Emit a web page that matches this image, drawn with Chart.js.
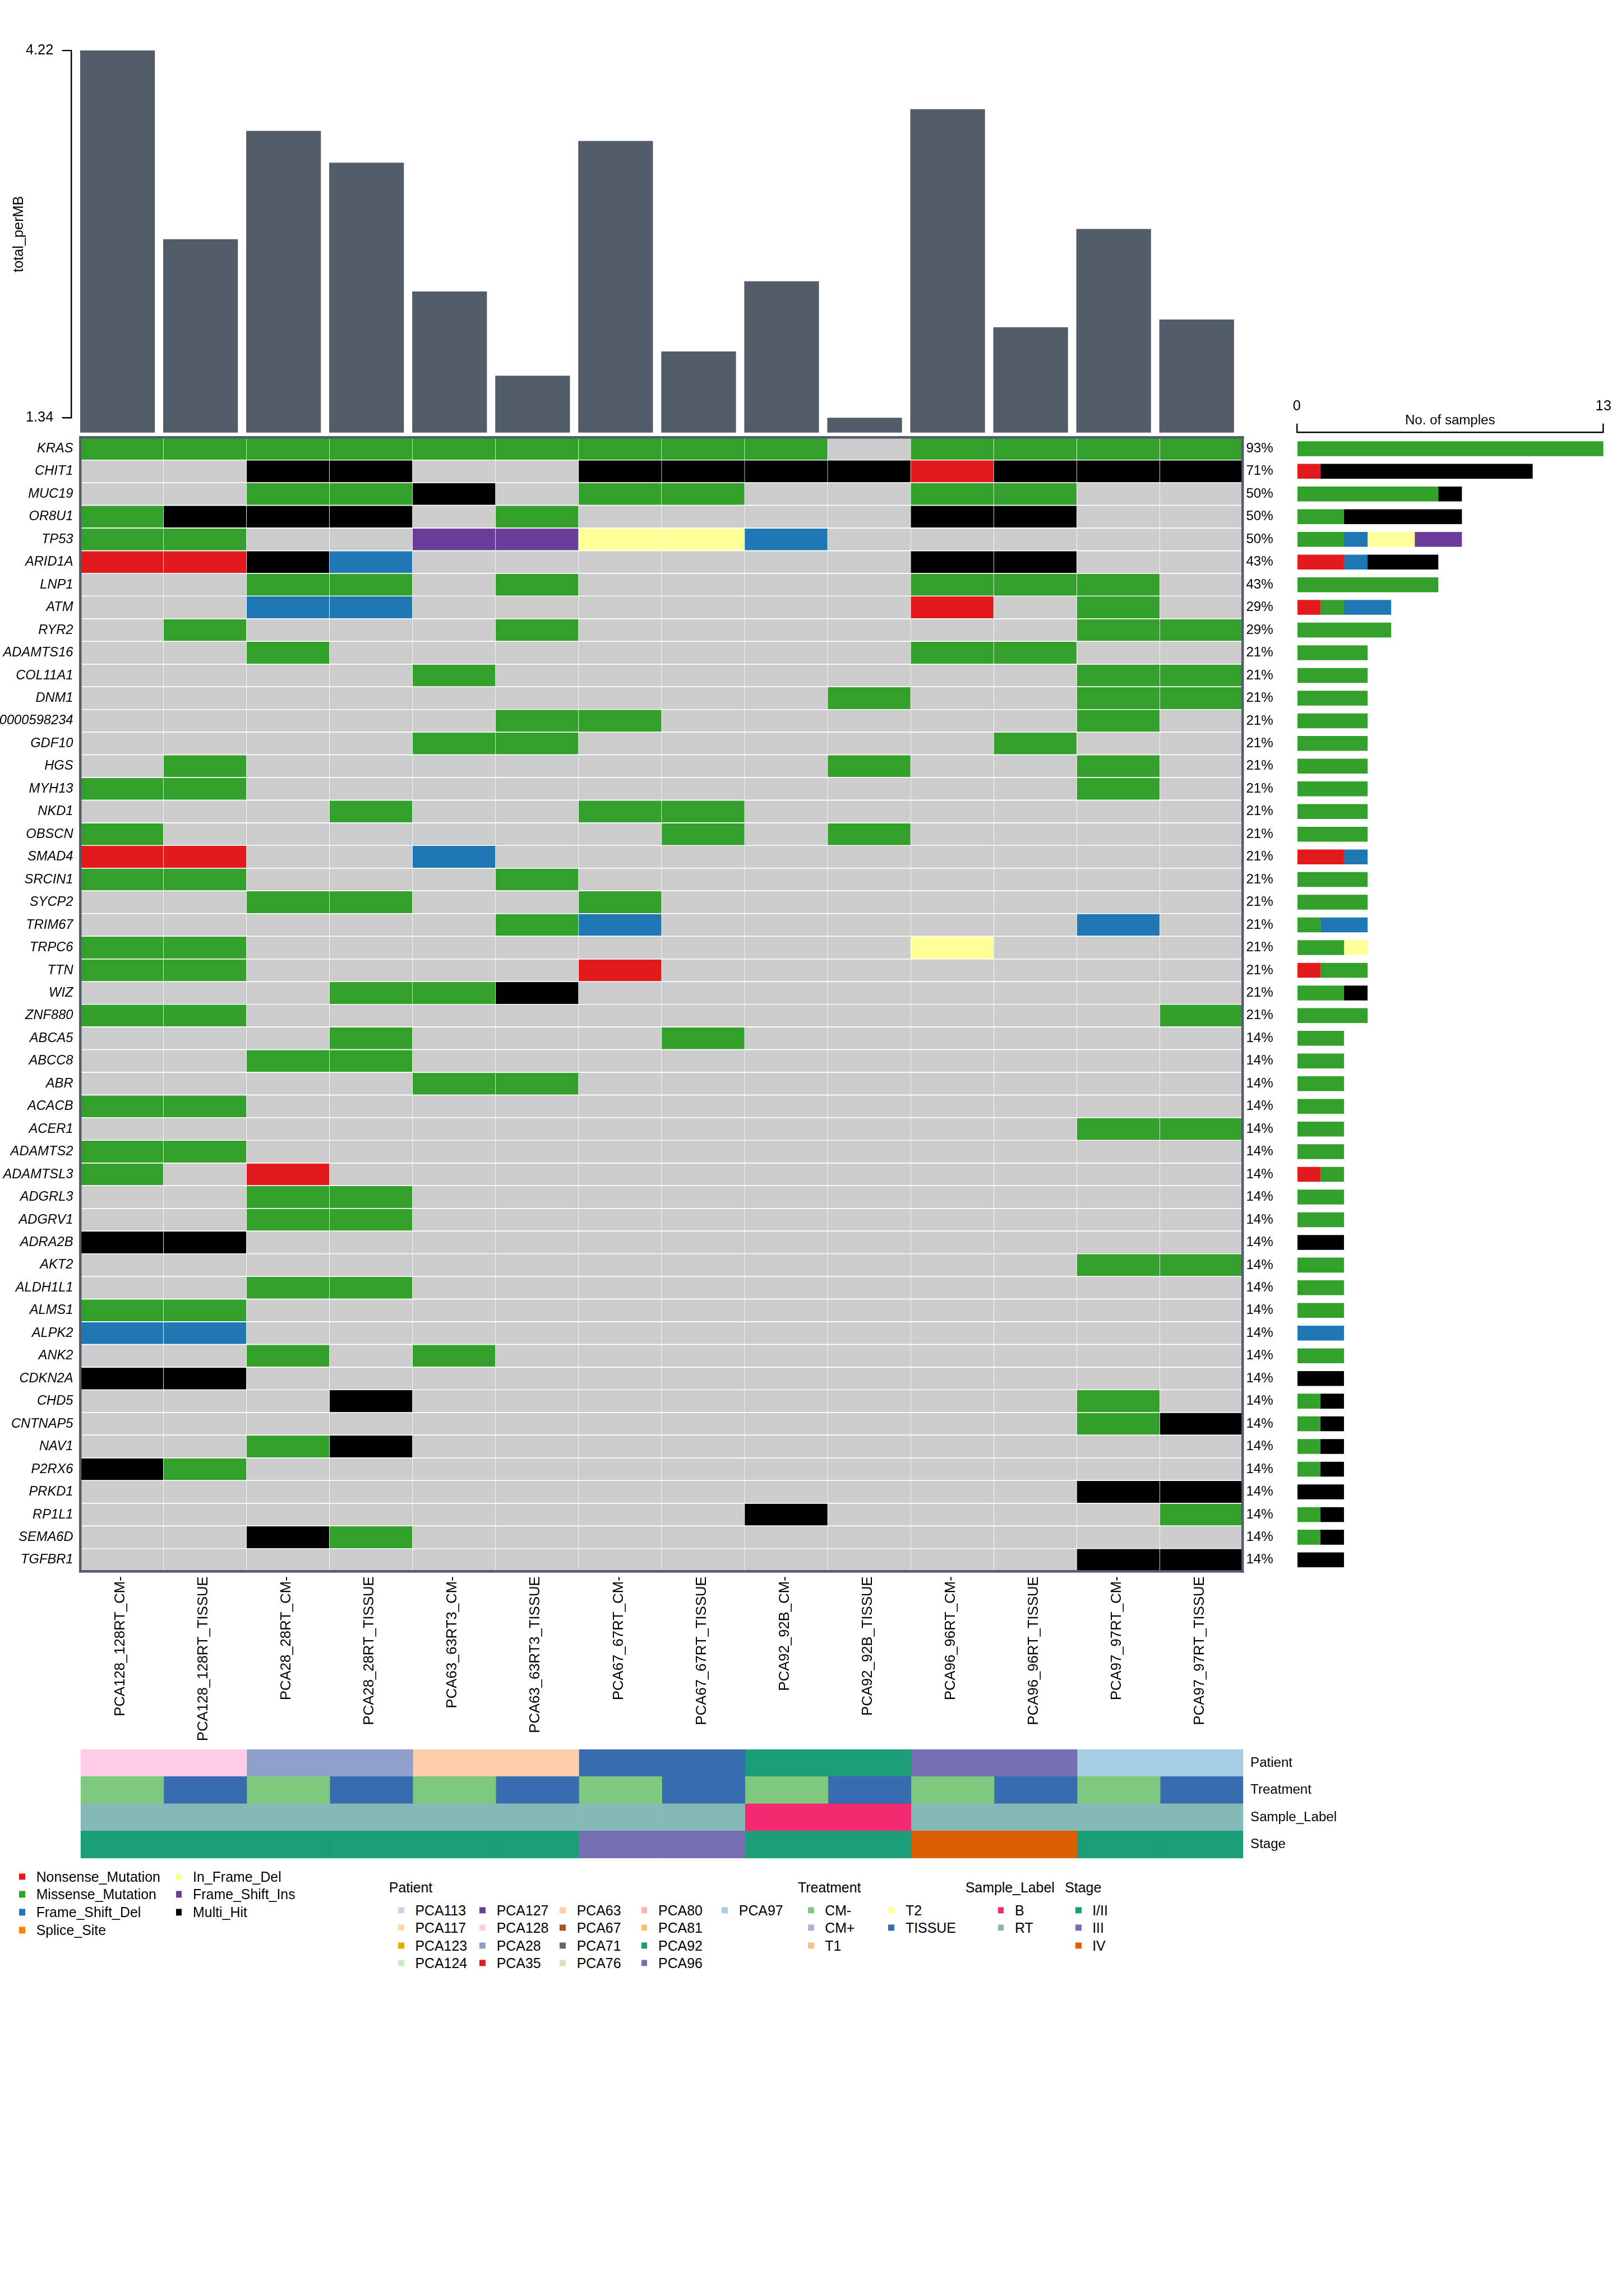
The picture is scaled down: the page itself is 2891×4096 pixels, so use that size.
<!DOCTYPE html>
<html><head><meta charset="utf-8">
<script src="https://cdn.jsdelivr.net/npm/chart.js@4.4.1/dist/chart.umd.min.js"></script>
<style>
html,body{margin:0;padding:0;background:#fff;}
body{width:2891px;height:4096px;position:relative;overflow:hidden;font-family:'Liberation Sans',Arial,Helvetica,sans-serif;}
canvas{position:absolute;}
.lg{position:absolute;white-space:nowrap;line-height:1;color:#000;transform:translateY(-50%);}
.sw{position:absolute;transform:translateY(-50%);}
</style></head><body>
<canvas id="tmb"></canvas>
<canvas id="grid"></canvas>
<canvas id="rbar"></canvas>
<canvas id="tracks"></canvas>
<div id="legend"></div>
<script>
// ---------------- DATA ----------------
const sampleNames = ['PCA128_128RT_CM-','PCA128_128RT_TISSUE','PCA28_28RT_CM-','PCA28_28RT_TISSUE','PCA63_63RT3_CM-','PCA63_63RT3_TISSUE','PCA67_67RT_CM-','PCA67_67RT_TISSUE','PCA92_92B_CM-','PCA92_92B_TISSUE','PCA96_96RT_CM-','PCA96_96RT_TISSUE','PCA97_97RT_CM-','PCA97_97RT_TISSUE'];
const tmbValues = [4.22, 2.74, 3.59, 3.34, 2.33, 1.67, 3.51, 1.86, 2.41, 1.34, 3.76, 2.05, 2.82, 2.11];
const tmbTickValues = [1.34, 4.22];
const tmbAxisTitle = 'total_perMB';

const genes = ['KRAS','CHIT1','MUC19','OR8U1','TP53','ARID1A','LNP1','ATM','RYR2','ADAMTS16','COL11A1','DNM1','ENSG00000598234','GDF10','HGS','MYH13','NKD1','OBSCN','SMAD4','SRCIN1','SYCP2','TRIM67','TRPC6','TTN','WIZ','ZNF880','ABCA5','ABCC8','ABR','ACACB','ACER1','ADAMTS2','ADAMTSL3','ADGRL3','ADGRV1','ADRA2B','AKT2','ALDH1L1','ALMS1','ALPK2','ANK2','CDKN2A','CHD5','CNTNAP5','NAV1','P2RX6','PRKD1','RP1L1','SEMA6D','TGFBR1'];

// one string per gene, one character per sample:
// . none, N Nonsense_Mutation, M Missense_Mutation, D Frame_Shift_Del, I In_Frame_Del, F Frame_Shift_Ins, X Multi_Hit
const mutationCalls = [
 'MMMMMMMMM.MMMM','..XX..XXXXNXXX','..MMX.MM..MM..','MXXX.M....XX..','MM..FFIID.....',
 'NNXD......XX..','..MM.M....MMM.','..DD......N.M.','.M...M......MM','..M.......MM..',
 '....M.......MM','.........M..MM','.....MM.....M.','....MM.....M..','.M.......M..M.',
 'MM..........M.','...M..MM......','M......M.M....','NN..D.........','MM...M........',
 '..MM..M.......','.....MD.....D.','MM........I...','MM....N.......','...MMX........',
 'MM...........M','...M...M......','..MM..........','....MM........','MM............',
 '............MM','MM............','M.N...........','..MM..........','..MM..........',
 'XX............','............MM','..MM..........','MM............','DD............',
 '..M.M.........','XX............','...X........M.','............MX','..MX..........',
 'XM............','............XX','........X....M','..XM..........','............XX'
];

const pctLabels = ['93%','71%','50%','50%','50%','43%','43%','29%','29%',
 '21%','21%','21%','21%','21%','21%','21%','21%','21%','21%','21%','21%','21%','21%','21%','21%','21%',
 '14%','14%','14%','14%','14%','14%','14%','14%','14%','14%','14%','14%','14%','14%','14%','14%','14%','14%','14%','14%','14%','14%','14%','14%'];

// per-gene sample counts (right bar plot)
const nonsenseCounts     = [0,1,0,0,0,2,0,1,0,0, 0,0,0,0,0,0,0,0,2,0, 0,0,0,1,0,0,0,0,0,0, 0,0,1,0,0,0,0,0,0,0, 0,0,0,0,0,0,0,0,0,0];
const missenseCounts     = [13,0,6,2,2,0,6,1,4,3, 3,3,3,3,3,3,3,3,0,3, 3,1,2,2,2,3,2,2,2,2, 2,2,1,2,2,0,2,2,2,0, 2,0,1,1,1,1,0,1,1,0];
const frameShiftDelCounts= [0,0,0,0,1,1,0,2,0,0, 0,0,0,0,0,0,0,0,1,0, 0,2,0,0,0,0,0,0,0,0, 0,0,0,0,0,0,0,0,0,2, 0,0,0,0,0,0,0,0,0,0];
const inFrameDelCounts   = [0,0,0,0,2,0,0,0,0,0, 0,0,0,0,0,0,0,0,0,0, 0,0,1,0,0,0,0,0,0,0, 0,0,0,0,0,0,0,0,0,0, 0,0,0,0,0,0,0,0,0,0];
const frameShiftInsCounts= [0,0,0,0,2,0,0,0,0,0, 0,0,0,0,0,0,0,0,0,0, 0,0,0,0,0,0,0,0,0,0, 0,0,0,0,0,0,0,0,0,0, 0,0,0,0,0,0,0,0,0,0];
const multiHitCounts     = [0,9,1,5,0,3,0,0,0,0, 0,0,0,0,0,0,0,0,0,0, 0,0,0,0,1,0,0,0,0,0, 0,0,0,0,0,2,0,0,0,0, 0,2,1,1,1,1,2,1,1,2];
const sampleAxisTicks = [0, 13];
const sampleAxisTitle = 'No. of samples';

const trackNames = ['Patient','Treatment','Sample_Label','Stage'];
const patientOfSample     = ['PCA128','PCA128','PCA28','PCA28','PCA63','PCA63','PCA67','PCA67','PCA92','PCA92','PCA96','PCA96','PCA97','PCA97'];
const treatmentOfSample   = ['CM-','TISSUE','CM-','TISSUE','CM-','TISSUE','CM-','TISSUE','CM-','TISSUE','CM-','TISSUE','CM-','TISSUE'];
const sampleLabelOfSample = ['RT','RT','RT','RT','RT','RT','RT','RT','B','B','RT','RT','RT','RT'];
const stageOfSample       = ['I/II','I/II','I/II','I/II','I/II','I/II','III','III','I/II','I/II','IV','IV','I/II','I/II'];

const mutationLegend    = ['Nonsense_Mutation','Missense_Mutation','Frame_Shift_Del','Splice_Site','In_Frame_Del','Frame_Shift_Ins','Multi_Hit'];
const patientLegend     = ['PCA113','PCA117','PCA123','PCA124','PCA127','PCA128','PCA28','PCA35','PCA63','PCA67','PCA71','PCA76','PCA80','PCA81','PCA92','PCA96','PCA97'];
const treatmentLegend   = ['CM-','CM+','T1','T2','TISSUE'];
const sampleLabelLegend = ['B','RT'];
const stageLegend       = ['I/II','III','IV'];

// ---------------- STYLE ----------------
const S = 2891 / 3600;
const R = v => v * S;
const FONT = "'Liberation Sans', Arial, Helvetica, sans-serif";
Chart.defaults.font.family = FONT;
Chart.defaults.color = '#000';

const SLATE = '#535C69';
const callColor = {'.':'#CCCCCC','N':'#E31A1C','M':'#33A02C','D':'#1F78B4','I':'#FFFF99','F':'#6A3D9A','X':'#000000','S':'#FF7F00'};
const mutationColor = {'Nonsense_Mutation':'#E31A1C','Missense_Mutation':'#33A02C','Frame_Shift_Del':'#1F78B4','Splice_Site':'#FF7F00','In_Frame_Del':'#FFFF99','Frame_Shift_Ins':'#6A3D9A','Multi_Hit':'#000000'};
const patientLegendColor = {PCA113:'#DECBE4',PCA117:'#FED9A6',PCA123:'#E6AB02',PCA124:'#CCEBC5',PCA127:'#6A3D9A',PCA128:'#FCCDE5',PCA28:'#8DA0CB',PCA35:'#E31A1C',PCA63:'#FDCDAC',PCA67:'#A65628',PCA71:'#666666',PCA76:'#E5D8BD',PCA80:'#FBB4AE',PCA81:'#FDBF6F',PCA92:'#1B9E77',PCA96:'#7570B3',PCA97:'#A6CEE3'};
const patientTrackColor = {PCA128:'#FCCDE5',PCA28:'#8DA0CB',PCA63:'#FDCDAC',PCA67:'#386CB0',PCA92:'#1B9E77',PCA96:'#7570B3',PCA97:'#A6CEE3'};
const treatmentColor = {'CM-':'#7FC97F','CM+':'#BEAED4','T1':'#FDC086','T2':'#FFFF99','TISSUE':'#386CB0'};
const sampleLabelColor = {'B':'#F22B71','RT':'#84B9B8'};
const stageColor = {'I/II':'#1B9E77','III':'#7570B3','IV':'#D95F02'};

function place(id, x, y, w, h) {
  const c = document.getElementById(id);
  const x0 = Math.round(R(x)), y0 = Math.round(R(y));
  const W = Math.round(R(w)), H = Math.round(R(h));
  c.width = W; c.height = H;
  c.style.width = W + 'px'; c.style.height = H + 'px';
  c.style.left = x0 + 'px'; c.style.top = y0 + 'px';
  return {c, x0, y0, W, H};
}
const common = {responsive:false, maintainAspectRatio:false, animation:false, events:[], devicePixelRatio:1,
  plugins:{legend:{display:false}, tooltip:{enabled:false}}};

// ---------------- TOP BAR (TMB) ----------------
const tb = place('tmb', 0, 0, 3600, 1040);
const tmbAxisPlugin = {
  id: 'tmbAxis',
  afterDraw(chart) {
    const sc = chart.scales.y, ctx = chart.ctx;
    const vals = sc.ticks.map(t => t.value);
    const pHi = sc.getPixelForValue(Math.max(...vals));
    const pLo = sc.getPixelForValue(Math.min(...vals));
    const xLine = chart.chartArea.left - R(10.4);
    const xEnd = xLine - R(20.7);
    ctx.save();
    ctx.strokeStyle = '#000'; ctx.lineWidth = R(3); ctx.lineCap = 'butt'; ctx.lineJoin = 'miter';
    ctx.beginPath();
    ctx.moveTo(xEnd, pHi); ctx.lineTo(xLine, pHi); ctx.lineTo(xLine, pLo); ctx.lineTo(xEnd, pLo);
    ctx.stroke();
    ctx.translate(R(42) - tb.x0, (pHi + pLo) / 2);
    ctx.rotate(-Math.PI / 2);
    ctx.font = R(31.5) + 'px ' + FONT; ctx.fillStyle = '#000';
    ctx.textAlign = 'center'; ctx.textBaseline = 'middle';
    ctx.fillText(tmbAxisTitle, 0, 0);
    ctx.restore();
  }
};
new Chart(tb.c, {
  type: 'bar',
  data: {labels: sampleNames, datasets: [{data: tmbValues, backgroundColor: SLATE, borderWidth: 0, barPercentage: 0.9, categoryPercentage: 1}]},
  options: Object.assign({}, common, {
    layout: {padding: {left: 0, top: R(112.2) - tb.y0, right: (tb.x0 + tb.W) - R(2749.8), bottom: (tb.y0 + tb.H) - R(961)}},
    scales: {
      x: {type: 'category', display: false},
      y: {type: 'linear', min: 1.2235, max: 4.22,
          afterBuildTicks: sc => { sc.ticks = tmbTickValues.map(v => ({value: v})); },
          ticks: {callback: v => Number(v).toFixed(2), padding: R(50.2), font: {size: R(31.5)}, color: '#000'},
          grid: {display: false, drawTicks: false}, border: {display: false},
          afterFit: sc => { sc.width = R(168.8) - tb.x0; }}
    }
  }),
  plugins: [tmbAxisPlugin]
});

// ---------------- ONCOPLOT GRID ----------------
const FW = R(5.5);
const gb = place('grid', 0, 920, 2870, 2960);
const frameBorder = {display: true, color: SLATE, width: FW, z: 1};
new Chart(gb.c, {
  type: 'bar',
  data: {
    labels: genes,
    datasets: sampleNames.map((s, si) => ({
      label: s,
      data: genes.map(() => 1),
      backgroundColor: genes.map((g, gi) => callColor[mutationCalls[gi][si]]),
      borderColor: '#FFFFFF',
      borderWidth: {left: 0.35, right: 0.35, top: 0, bottom: 0},
      borderSkipped: false,
      barPercentage: 0.965, categoryPercentage: 1,
      xAxisID: 'x', yAxisID: 'y'
    }))
  },
  options: Object.assign({}, common, {
    indexAxis: 'y',
    layout: {padding: {left: 0, right: 0, top: R(971.5) - gb.y0, bottom: 0}},
    scales: {
      x: {type: 'linear', position: 'top', stacked: true, min: 0, max: sampleNames.length,
          ticks: {display: false}, grid: {display: false, drawTicks: false, lineWidth: FW},
          border: frameBorder, afterFit: sc => { sc.height = 0; }},
      xl: {type: 'category', position: 'bottom', labels: sampleNames, offset: true, weight: 1,
           grid: {display: false, drawTicks: false, offset: true, lineWidth: FW},
           border: frameBorder,
           ticks: {autoSkip: false, maxRotation: 90, minRotation: 90, padding: R(11.5), labelOffset: -R(3),
                   font: {size: R(32)}, color: '#000'},
           afterFit: sc => { sc.height = (gb.y0 + gb.H) - R(3490.5); }},
      y: {type: 'category', position: 'left', stacked: true, offset: true,
          grid: {display: false, drawTicks: false, offset: true, lineWidth: FW},
          border: frameBorder,
          ticks: {autoSkip: false, padding: R(16), font: {size: R(29.5), style: 'italic'}, color: '#000'},
          afterFit: sc => { sc.width = R(178.5) - gb.x0; }},
      yR: {type: 'category', position: 'right', labels: pctLabels, offset: true,
           grid: {display: false, drawTicks: false, offset: true, lineWidth: FW},
           border: frameBorder,
           ticks: {autoSkip: false, padding: R(7.5), font: {size: R(30)}, color: '#000'},
           afterFit: sc => { sc.width = (gb.x0 + gb.W) - R(2760); }}
    }
  })
});

// ---------------- RIGHT BAR (No. of samples) ----------------
const rb = place('rbar', 2840, 850, 760, 2710);
const rowRef = (3490.5 - 971.5) / genes.length;
const countSeries = [
  ['Nonsense_Mutation', nonsenseCounts], ['Missense_Mutation', missenseCounts], ['Frame_Shift_Del', frameShiftDelCounts],
  ['In_Frame_Del', inFrameDelCounts], ['Frame_Shift_Ins', frameShiftInsCounts], ['Multi_Hit', multiHitCounts]
];
const rbarTitlePlugin = {
  id: 'rbarTitle',
  afterDraw(chart) {
    const xs = chart.scales.x, ctx = chart.ctx;
    ctx.save();
    ctx.font = R(30) + 'px ' + FONT; ctx.fillStyle = '#000';
    ctx.textAlign = 'center'; ctx.textBaseline = 'middle';
    ctx.fillText(sampleAxisTitle, (xs.left + xs.right) / 2, xs.bottom - R(26));
    ctx.restore();
  }
};
new Chart(rb.c, {
  type: 'bar',
  data: {
    datasets: countSeries.map(([name, counts]) => ({
      label: name,
      data: genes.map((g, i) => ({x: counts[i], y: i})),
      backgroundColor: mutationColor[name], borderWidth: 0,
      barPercentage: 0.9, categoryPercentage: 1
    }))
  },
  options: Object.assign({}, common, {
    indexAxis: 'y',
    layout: {padding: {left: R(2880) - rb.x0, right: (rb.x0 + rb.W) - R(3561), top: 0, bottom: (rb.y0 + rb.H) - R(3490.5)}},
    scales: {
      y: {type: 'linear', reverse: true, offset: false, stacked: true, display: false,
          min: -0.5 - (971.5 - 960) / rowRef, max: genes.length - 0.5},
      x: {type: 'linear', position: 'top', stacked: true, min: sampleAxisTicks[0], max: sampleAxisTicks[1],
          afterBuildTicks: sc => { sc.ticks = sampleAxisTicks.map(v => ({value: v})); },
          ticks: {padding: R(19.4), font: {size: R(31.5)}, color: '#000', callback: v => String(v)},
          grid: {display: true, drawOnChartArea: false, drawTicks: true, tickLength: R(19), color: '#000', lineWidth: R(3)},
          border: {display: true, color: '#000', width: R(3)},
          afterFit: sc => { sc.height = R(960) - rb.y0; }}
    }
  }),
  plugins: [rbarTitlePlugin]
});

// ---------------- ANNOTATION TRACKS ----------------
const ab = place('tracks', 0, 3830, 3600, 340);
new Chart(ab.c, {
  type: 'bar',
  data: {
    labels: trackNames,
    datasets: sampleNames.map((s, si) => ({
      label: s,
      data: trackNames.map(() => 1),
      backgroundColor: [patientTrackColor[patientOfSample[si]], treatmentColor[treatmentOfSample[si]],
                        sampleLabelColor[sampleLabelOfSample[si]], stageColor[stageOfSample[si]]],
      borderWidth: 0, barPercentage: 1, categoryPercentage: 1
    }))
  },
  options: Object.assign({}, common, {
    indexAxis: 'y',
    layout: {padding: {left: R(179) - ab.x0, right: 0, top: R(3886) - ab.y0, bottom: (ab.y0 + ab.H) - R(4128)}},
    scales: {
      x: {type: 'linear', stacked: true, min: 0, max: sampleNames.length, display: false},
      y: {type: 'category', position: 'right', stacked: true, offset: true,
          grid: {display: false, drawTicks: false}, border: {display: false},
          ticks: {autoSkip: false, padding: R(16), font: {size: R(30)}, color: '#000'},
          afterFit: sc => { sc.width = (ab.x0 + ab.W) - R(2761); }}
    }
  })
});

// ---------------- LEGENDS ----------------
const legendBox = document.getElementById('legend');
const LF = 31;
function addText(txt, xRef, yRef, size) {
  const d = document.createElement('div');
  d.className = 'lg'; d.textContent = txt;
  d.style.left = R(xRef) + 'px'; d.style.top = R(yRef) + 'px'; d.style.fontSize = R(size || LF) + 'px';
  legendBox.appendChild(d);
}
function addSwatch(color, xRef, yRef) {
  const d = document.createElement('div');
  d.className = 'sw';
  d.style.left = R(xRef) + 'px'; d.style.top = R(yRef) + 'px';
  d.style.width = R(13.5) + 'px'; d.style.height = R(14) + 'px'; d.style.background = color;
  legendBox.appendChild(d);
}
function addGroup(items, colorMap, colX, y0, dy, perCol) {
  items.forEach((it, k) => {
    const col = Math.floor(k / perCol), row = k % perCol;
    const y = y0 + row * dy;
    addSwatch(colorMap[it], colX[col] - 38, y);
    addText(it, colX[col], y);
  });
}
addGroup(mutationLegend, mutationColor, [80.5, 428.5], 4168.5, 39.8, 4);
addText('Patient', 864, 4193);
addText('Treatment', 1772, 4193);
addText('Sample_Label', 2144, 4193);
addText('Stage', 2365, 4193);
addGroup(patientLegend, patientLegendColor, [922, 1103, 1281, 1462, 1641], 4243.5, 39.2, 4);
addGroup(treatmentLegend, treatmentColor, [1832, 2011], 4243.5, 39.2, 3);
addGroup(sampleLabelLegend, sampleLabelColor, [2254], 4243.5, 39.2, 3);
addGroup(stageLegend, stageColor, [2426], 4243.5, 39.2, 3);
</script></body></html>
